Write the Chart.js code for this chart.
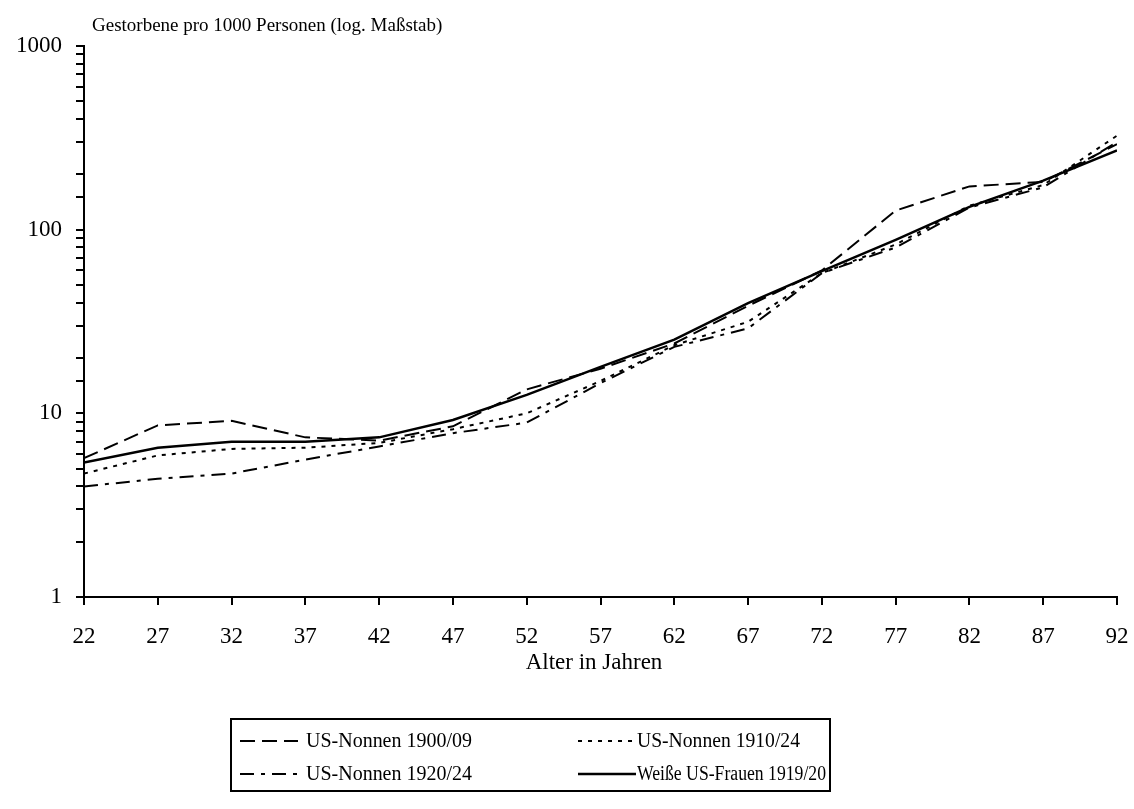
<!DOCTYPE html>
<html lang="de">
<head>
    <meta charset="UTF-8">
    <title>Sterblichkeit US-Nonnen</title>
    <script src="https://cdn.jsdelivr.net/npm/chart.js"></script>
    <style>
        body { margin: 0; background: #fff; }
        canvas { display: block; }
    </style>
</head>
<body>
    <canvas id="chart" width="1134" height="809"></canvas>

    <script>
        // Alter in Jahren
        const ages = [22, 27, 32, 37, 42, 47, 52, 57, 62, 67, 72, 77, 82, 87, 92];

        // Gestorbene pro 1000 Personen
        const nonnen1900 = [5.7, 8.6, 9.1, 7.4, 7.1, 8.5, 13.5, 17.5, 24, 38.5, 60, 127, 172, 182, 292];
        const nonnen1910 = [4.7, 5.9, 6.4, 6.5, 6.9, 8.2, 10, 15, 23.5, 31.5, 58, 83, 135, 175, 325];
        const nonnen1920 = [4.0, 4.4, 4.7, 5.6, 6.6, 7.8, 8.9, 14.6, 23, 29, 58, 80, 132, 170, 300];
        const frauen1919 = [5.4, 6.5, 7.0, 7.0, 7.4, 9.2, 12.6, 17.9, 25.2, 39.8, 59.5, 88, 133, 185, 270];

        const seriesNames = ['US-Nonnen 1900/09', 'US-Nonnen 1910/24', 'US-Nonnen 1920/24', 'Weiße US-Frauen 1919/20'];
        const yTickLabels = [1, 10, 100, 1000];

        const FONT = '"Liberation Serif", "Times New Roman", serif';
        const dashes = [[15, 7], [4, 6], [14, 7, 4, 7], []];

        function toPoints(vals) {
            return vals.map((v, i) => ({ x: ages[i], y: v }));
        }

        const allSeries = [nonnen1900, nonnen1910, nonnen1920, frauen1919];
        const datasets = allSeries.map((vals, i) => ({
            label: seriesNames[i],
            data: toPoints(vals),
            borderColor: '#000',
            borderWidth: i === 3 ? 2.5 : 2,
            borderDash: dashes[i],
            pointRadius: 0,
            fill: false,
            tension: 0
        }));

        // Titel oben links + Legendenkasten unten
        const extras = {
            id: 'extras',
            afterDraw(chart) {
                const c = chart.ctx;
                c.save();
                c.fillStyle = '#000';
                c.font = '19px ' + FONT;
                c.textBaseline = 'alphabetic';
                c.textAlign = 'left';
                c.fillText('Gestorbene pro 1000 Personen (log. Maßstab)', 92, 31);

                c.textAlign = 'center';
                c.textBaseline = 'middle';
                c.font = '23px ' + FONT;
                c.fillText('Alter in Jahren', 594, 663);

                // Legende
                c.lineWidth = 2;
                c.strokeStyle = '#000';
                c.setLineDash([]);
                c.strokeRect(231, 719, 599, 72);

                const pos = [
                    { x1: 240, x2: 298, tx: 306, y: 741, w: 166 },
                    { x1: 578, x2: 636, tx: 637, y: 741, w: 163 },
                    { x1: 240, x2: 298, tx: 306, y: 774, w: 166 },
                    { x1: 578, x2: 636, tx: 637, y: 774, w: 189 }
                ];
                c.textAlign = 'left';
                c.font = '20px ' + FONT;
                pos.forEach((p, i) => {
                    c.setLineDash(dashes[i]);
                    c.lineWidth = i === 3 ? 2.5 : 2;
                    c.beginPath();
                    c.moveTo(p.x1, p.y);
                    c.lineTo(p.x2, p.y);
                    c.stroke();
                    c.setLineDash([]);
                    c.fillText(seriesNames[i], p.tx, p.y + 1, p.w);
                });
                c.restore();
            }
        };

        const ctx = document.getElementById('chart').getContext('2d');
        new Chart(ctx, {
            type: 'line',
            data: { datasets: datasets },
            options: {
                responsive: false,
                animation: false,
                devicePixelRatio: 1,
                layout: { padding: { top: 46, right: 17, left: 0, bottom: 132 } },
                plugins: {
                    legend: { display: false },
                    tooltip: { enabled: false }
                },
                scales: {
                    x: {
                        type: 'linear',
                        min: 22,
                        max: 92,
                        afterFit(scale) {
                            scale.height = 80;
                            scale.paddingLeft = 0;
                            scale.paddingRight = 0;
                        },
                        afterBuildTicks(scale) {
                            scale.ticks = ages.map(a => ({ value: a }));
                        },
                        ticks: {
                            color: '#000',
                            font: { family: FONT, size: 23 },
                            padding: 18,
                            maxRotation: 0,
                            autoSkip: false
                        },
                        grid: {
                            drawOnChartArea: false,
                            drawTicks: true,
                            tickLength: 8,
                            color: '#000',
                            lineWidth: 2
                        },
                        border: { color: '#000', width: 2 }
                    },
                    y: {
                        type: 'logarithmic',
                        min: 1,
                        max: 1000,
                        afterFit(scale) {
                            scale.width = 84;
                            scale.paddingTop = 0;
                            scale.paddingBottom = 0;
                        },
                        ticks: {
                            color: '#000',
                            font: { family: FONT, size: 23 },
                            padding: 14,
                            autoSkip: false,
                            callback(v) {
                                return yTickLabels.includes(v) ? String(v) : '';
                            }
                        },
                        grid: {
                            drawOnChartArea: false,
                            drawTicks: true,
                            tickLength: 8,
                            color: '#000',
                            lineWidth: 2
                        },
                        border: { color: '#000', width: 2 }
                    }
                }
            },
            plugins: [extras]
        });
    </script>
</body>
</html>
